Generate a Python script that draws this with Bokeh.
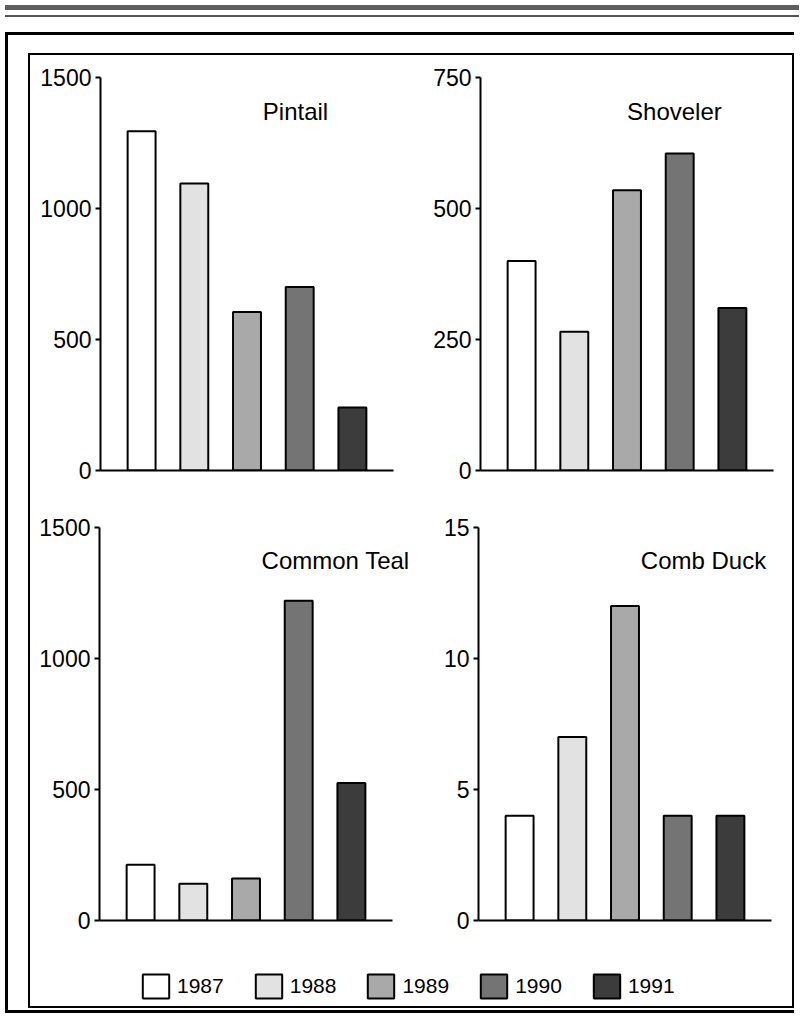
from bokeh.plotting import figure
from bokeh.layouts import column, row
from bokeh.models import Range1d, FixedTicker, Label, Legend, LegendItem, Div
from bokeh.embed import file_html
from bokeh.resources import INLINE

# ---- data ----
years = ["1987", "1988", "1989", "1990", "1991"]
pintail = [1295, 1095, 605, 700, 240]
shoveler = [400, 265, 535, 605, 310]
common_teal = [213, 140, 160, 1220, 525]
comb_duck = [4, 7, 12, 4, 4]

pintail_ticks = [0, 500, 1000, 1500]
shoveler_ticks = [0, 250, 500, 750]
teal_ticks = [0, 500, 1000, 1500]
comb_ticks = [0, 5, 10, 15]

colors = ["#ffffff", "#e2e2e2", "#a9a9a9", "#747474", "#3c3c3c"]

FONT = "'Liberation Sans', Arial, sans-serif"

X0, X1 = -0.78, 4.78          # extent of the drawn x axis (bar index units)
UNIT_PER_PX = (X1 - X0) / 293.0


def panel(vals, ticks, title, tx, ty, width, left, top, bottom):
    frame_w = width - left
    p = figure(width=width, height=445,
               x_range=Range1d(X0, X0 + frame_w * UNIT_PER_PX),
               y_range=Range1d(ticks[0], ticks[-1]),
               output_backend="svg", toolbar_location=None,
               min_border_left=left, min_border_right=0,
               min_border_top=top, min_border_bottom=bottom)
    p.xgrid.visible = False
    p.ygrid.visible = False
    p.outline_line_color = None
    p.background_fill_color = "white"
    p.border_fill_color = "white"

    ya = p.yaxis[0]
    ya.ticker = FixedTicker(ticks=ticks)
    ya.minor_tick_line_color = None
    ya.major_tick_in = 0
    ya.major_tick_out = 5
    ya.major_tick_line_width = 2
    ya.axis_line_width = 2
    ya.axis_line_color = "black"
    ya.major_tick_line_color = "black"
    ya.major_label_text_font = FONT
    ya.major_label_text_font_size = "23px"
    ya.major_label_text_color = "black"
    ya.major_label_standoff = 4

    xa = p.xaxis[0]
    xa.ticker = FixedTicker(ticks=[])
    xa.bounds = (X0, X1)
    xa.minor_tick_line_color = None
    xa.major_tick_line_color = None
    xa.axis_line_width = 2
    xa.axis_line_color = "black"

    xs = list(range(len(years)))
    for i in xs:
        p.vbar(x=[xs[i]], top=[vals[i]], bottom=0, width=0.53,
               fill_color=colors[i], line_color="black", line_width=2)

    p.add_layout(Label(x=tx, y=ty, text=title, text_align="center",
                       text_baseline="alphabetic", text_font=FONT,
                       text_font_size="24px", text_color="black"))
    return p


tl = panel(pintail, pintail_ticks, "Pintail", 2.92, 1370, 380, 70, 22, 30)
tr = panel(shoveler, shoveler_ticks, "Shoveler", 2.9, 685, 382, 70, 22, 30)
bl = panel(common_teal, teal_ticks, "Common Teal", 3.7, 1374, 380, 69, 27, 25)
br = panel(comb_duck, comb_ticks, "Comb Duck", 3.49, 13.74, 382, 68, 27, 25)

# legend strip
lg = figure(width=762, height=61, x_range=Range1d(0, 1), y_range=Range1d(0, 1),
            x_axis_type=None, y_axis_type=None, output_backend="svg",
            toolbar_location=None, min_border=0)
lg.xgrid.visible = False
lg.ygrid.visible = False
lg.outline_line_color = None
items = []
for i, yr in enumerate(years):
    # a zero-height bar outside the visible range: only its legend swatch shows
    r = lg.vbar(x=[5], top=[0], bottom=0, width=0.1, fill_color=colors[i],
                line_color="black", line_width=2)
    items.append(LegendItem(label=yr, renderers=[r]))
legend = Legend(items=items, orientation="horizontal", location=(109, 5),
                glyph_width=33, glyph_height=30, label_standoff=5, spacing=28,
                padding=0, margin=0, border_line_color=None,
                background_fill_alpha=0, label_text_font=FONT,
                label_text_font_size="21px", label_text_color="black")
lg.add_layout(legend)

band = Div(width=794, height=22,
           text='<div style="width:794px;height:5px;background:#5e5e5e"></div>'
                '<div style="width:794px;height:5px"></div>'
                '<div style="width:794px;height:2px;background:#555"></div>')

inner = column(row(tl, tr), row(bl, br), lg,
               styles={"border": "2px solid black", "margin-top": "18px",
                       "margin-left": "20px", "margin-bottom": "2px"})
outer = column(inner, styles={"border": "3px solid black", "border-right": "none",
                              "transform": "translateX(5px)"})
root = column(band, outer)

open("out.html", "w").write(file_html(root, INLINE))
